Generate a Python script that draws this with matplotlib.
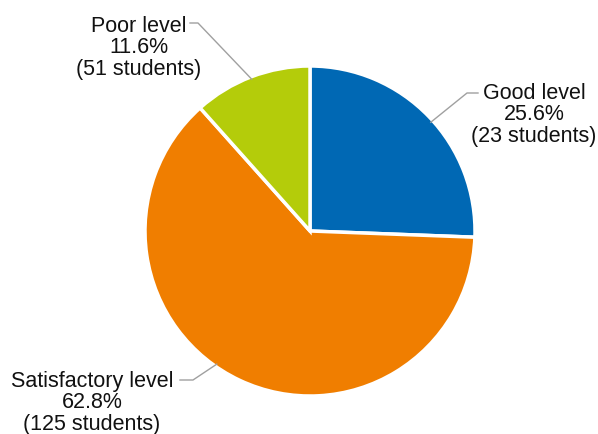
import numpy as np
import matplotlib.pyplot as plt

# data
levels = ['Good level', 'Satisfactory level', 'Poor level']
shares = [25.6, 62.8, 11.6]
students = [23, 125, 51]
colors = ['#0068B4', '#F07E00', '#B4CC0A']

plt.rcParams['font.family'] = ['Liberation Sans', 'DejaVu Sans']

W, H = 598, 434
cx, cy, R = 310, 231, 165


def px(x, y):
    # pixel position -> data units (pie radius = 1)
    return (x - cx) / R, (cy - y) / R


fig = plt.figure(figsize=(W / 100, H / 100), dpi=100)
ax = fig.add_axes([0, 0, 1, 1])
ax.pie(shares, colors=colors, startangle=90, counterclock=False,
       radius=1, wedgeprops=dict(edgecolor='white', linewidth=2.5))
ax.set_xlim(px(0, 0)[0], px(W, 0)[0])
ax.set_ylim(px(0, H)[1], px(0, 0)[1])
ax.set_aspect('auto')
ax.axis('off')

# label layout: text centre, leader end, knee, anchor angle on the pie
layout = {
    'Good level': dict(text=(534, 115), end=(478, 93), knee=(467, 93), ang=42),
    'Satisfactory level': dict(text=(92, 403), end=(180, 380), knee=(193, 380), ang=-125),
    'Poor level': dict(text=(139, 48), end=(190, 23), knee=(198, 23), ang=111),
}

for name, pct, n in zip(levels, shares, students):
    lay = layout[name]
    a = np.deg2rad(lay['ang'])
    anchor = (0.985 * np.cos(a), 0.985 * np.sin(a))
    e = px(*lay['end'])
    k = px(*lay['knee'])
    ax.plot([e[0], k[0], anchor[0]], [e[1], k[1], anchor[1]],
            color='#A0A0A0', lw=1)
    tx, ty = px(*lay['text'])
    ax.text(tx, ty, f'{name}\n{pct:.1f}%\n({n} students)',
            ha='center', va='center', fontsize=15.5, color='#111111',
            linespacing=1.06)

fig.savefig('out.png', dpi=100)
